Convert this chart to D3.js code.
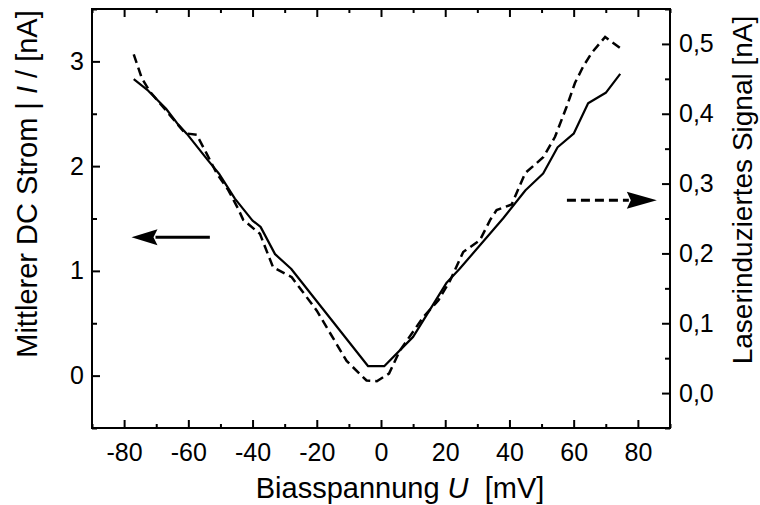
<!DOCTYPE html>
<html>
<head>
<meta charset="utf-8">
<script src="https://cdn.jsdelivr.net/npm/d3@7"></script>
<style>
  body { margin: 0; background: #fff; }
  svg { display: block; }
  text { font-family: "Liberation Sans", Arial, sans-serif; fill: #000; }
</style>
</head>
<body>
<svg id="chart" width="760" height="505"></svg>
<script>
// ---- Data ----
const currentU = [-77, -72.5, -67, -63.5, -60.5, -54, -50.5, -45.5, -40, -37.5, -33, -28, -4, 1, 10, 20.5, 24.5, 38, 45, 50.5, 55, 60, 64.5, 70, 74.5];
const currentI = [2.83, 2.72, 2.55, 2.41, 2.31, 2.06, 1.93, 1.69, 1.48, 1.42, 1.16, 1.02, 0.09, 0.09, 0.37, 0.89, 1.02, 1.50, 1.77, 1.93, 2.18, 2.31, 2.60, 2.70, 2.88];

const signalU = [-77, -74.5, -72, -67, -61, -57.4, -54.3, -51.2, -47.6, -44.5, -42.9, -37.7, -33.6, -27.8, -20, -10.7, -4.5, -1.3, 2.5, 5.9, 13.2, 17.9, 21.5, 25.6, 30.8, 34, 36, 40.7, 44.9, 50.6, 54.2, 57.8, 60.4, 63, 65.6, 69.8, 74.5];
const signalS = [0.485, 0.451, 0.432, 0.405, 0.372, 0.370, 0.343, 0.315, 0.291, 0.264, 0.248, 0.228, 0.180, 0.166, 0.118, 0.046, 0.018, 0.017, 0.028, 0.061, 0.109, 0.133, 0.161, 0.202, 0.219, 0.248, 0.262, 0.270, 0.315, 0.338, 0.367, 0.410, 0.444, 0.468, 0.487, 0.510, 0.494];

const xTicks = [-80, -60, -40, -20, 0, 20, 40, 60, 80];
const xMinorTicks = [-90, -70, -50, -30, -10, 10, 30, 50, 70, 90];
const yLTicks = [0, 1, 2, 3];
const yLMinorTicks = [-0.5, 0.5, 1.5, 2.5, 3.5];
const yRTicks = [0.0, 0.1, 0.2, 0.3, 0.4, 0.5];
const yRMinorTicks = [-0.05, 0.05, 0.15, 0.25, 0.35, 0.45, 0.55];

// arrows in data units: [tail U, tip U, level]
const leftArrow = { tail: -53.3, tip: -77.7, level: 1.32 };   // left axis
const rightArrow = { tail: 57.9, tip: 85.9, level: 0.276 };   // right axis

// ---- Layout ----
const L = 92, R = 670, T = 9, B = 428;
const svg = d3.select("#chart");

const x = d3.scaleLinear().domain([-90, 90]).range([L, R]);
const yL = d3.scaleLinear().domain([-0.5, 3.5]).range([B, T]);
const yR = d3.scaleLinear().domain([-0.05, 0.55]).range([B, T]);

const fmtX = d => String(d);            // hyphen-minus as in the reference
const fmtR = d => d3.format(".1f")(d).replace(".", ",");

function axisGroup(axis, tx, ty) {
  const g = svg.append("g").attr("transform", `translate(${tx},${ty})`).call(axis);
  g.select(".domain").remove();
  g.selectAll(".tick line").attr("stroke", "#000").attr("stroke-width", 2);
  return g;
}

// bottom
axisGroup(d3.axisBottom(x).tickValues(xTicks).tickSize(-8).tickPadding(15).tickFormat(fmtX), 0, B)
  .selectAll("text").attr("font-size", 25).attr("dy", "0.71em");
axisGroup(d3.axisBottom(x).tickValues(xMinorTicks).tickSize(-4).tickFormat(""), 0, B);
// top
axisGroup(d3.axisTop(x).tickValues(xTicks).tickSize(-8).tickFormat(""), 0, T);
axisGroup(d3.axisTop(x).tickValues(xMinorTicks).tickSize(-4).tickFormat(""), 0, T);
// left
axisGroup(d3.axisLeft(yL).tickValues(yLTicks).tickSize(-8).tickPadding(8).tickFormat(d => String(d)), L, 0)
  .selectAll("text").attr("font-size", 25);
axisGroup(d3.axisLeft(yL).tickValues(yLMinorTicks).tickSize(-5).tickFormat(""), L, 0);
// right
axisGroup(d3.axisRight(yR).tickValues(yRTicks).tickSize(-8).tickPadding(9).tickFormat(fmtR), R, 0)
  .selectAll("text").attr("font-size", 25);
axisGroup(d3.axisRight(yR).tickValues(yRMinorTicks).tickSize(-5).tickFormat(""), R, 0);

// frame
svg.append("rect").attr("x", L).attr("y", T).attr("width", R - L).attr("height", B - T)
  .attr("fill", "none").attr("stroke", "#000").attr("stroke-width", 2);

// lines
const currentData = currentU.map((u, i) => [u, currentI[i]]);
const signalData = signalU.map((u, i) => [u, signalS[i]]);

svg.append("path").datum(signalData)
  .attr("fill", "none").attr("stroke", "#000").attr("stroke-width", 2.5)
  .attr("stroke-dasharray", "9,5")
  .attr("d", d3.line().x(d => x(d[0])).y(d => yR(d[1])));

svg.append("path").datum(currentData)
  .attr("fill", "none").attr("stroke", "#000").attr("stroke-width", 2.2)
  .attr("stroke-linejoin", "round")
  .attr("d", d3.line().x(d => x(d[0])).y(d => yL(d[1])));

// arrows
function arrow(tailX, tipX, yy, headLen, halfH, dashed) {
  const dir = Math.sign(tipX - tailX);
  const baseX = tipX - dir * headLen;
  const shaft = svg.append("line").attr("x1", tailX).attr("x2", baseX + dir * 2).attr("y1", yy).attr("y2", yy)
    .attr("stroke", "#000").attr("stroke-width", 3);
  if (dashed) shaft.attr("stroke-dasharray", "9,5");
  svg.append("path")
    .attr("d", `M${tipX},${yy} L${baseX},${yy - halfH} L${baseX + dir * 4},${yy} L${baseX},${yy + halfH} Z`)
    .attr("fill", "#000");
}
arrow(x(leftArrow.tail), x(leftArrow.tip), yL(leftArrow.level), 26, 8, false);
arrow(x(rightArrow.tail), x(rightArrow.tip), yR(rightArrow.level), 30, 8.5, true);

// axis titles
const xt = svg.append("text").attr("x", 400).attr("y", 498).attr("text-anchor", "middle")
  .attr("font-size", 29).style("white-space", "pre");
xt.append("tspan").text("Biasspannung ");
xt.append("tspan").attr("font-style", "italic").text("U");
xt.append("tspan").text("  [mV]");

const lt = svg.append("text").attr("transform", "translate(37,184) rotate(-90)")
  .attr("text-anchor", "middle").attr("font-size", 29).style("white-space", "pre");
lt.append("tspan").text("Mittlerer DC Strom | ");
lt.append("tspan").attr("font-style", "italic").text("I");
lt.append("tspan").text(" / [nA]");

svg.append("text").attr("transform", "translate(752,190) rotate(-90)")
  .attr("text-anchor", "middle").attr("font-size", 28)
  .text("Laserinduziertes Signal [nA]");
</script>
</body>
</html>
